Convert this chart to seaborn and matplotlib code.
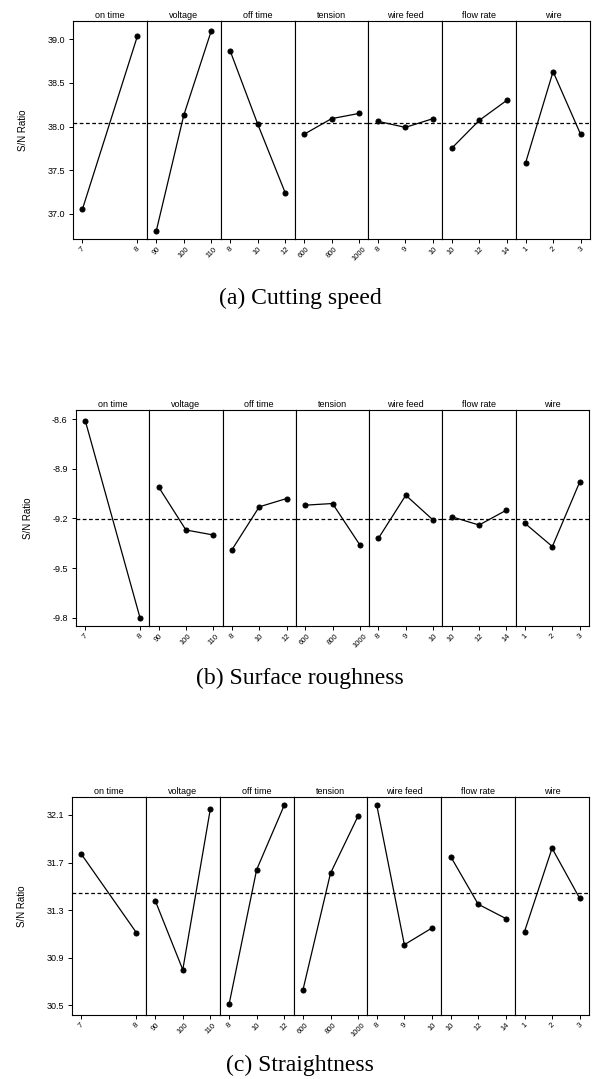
import numpy as np
import pandas as pd
import matplotlib
matplotlib.use('Agg')
import matplotlib.pyplot as plt
import seaborn as sns

# factors and their levels (same for all three responses)
factors = ['on time', 'voltage', 'off time', 'tension', 'wire feed', 'flow rate', 'wire']
levels = [[7, 8], [90, 100, 110], [8, 10, 12], [600, 800, 1000],
          [8, 9, 10], [10, 12, 14], [1, 2, 3]]

# mean S/N ratio per level
speed_sn = [[37.05, 39.04], [36.80, 38.13, 39.10], [38.87, 38.03, 37.24],
            [37.91, 38.09, 38.15], [38.06, 37.99, 38.09], [37.75, 38.07, 38.30],
            [37.58, 38.63, 37.91]]
rough_sn = [[-8.61, -9.80], [-9.01, -9.27, -9.30], [-9.39, -9.13, -9.08],
            [-9.12, -9.11, -9.36], [-9.32, -9.06, -9.21], [-9.19, -9.24, -9.15],
            [-9.23, -9.37, -8.98]]
straight_sn = [[31.77, 31.11], [31.38, 30.80, 32.15], [30.51, 31.64, 32.18],
               [30.63, 31.61, 32.09], [32.18, 31.01, 31.15], [31.75, 31.35, 31.23],
               [31.12, 31.82, 31.40]]

speed_ticks = [37.0, 37.5, 38.0, 38.5, 39.0]
rough_ticks = [-9.8, -9.5, -9.2, -8.9, -8.6]
straight_ticks = [30.5, 30.9, 31.3, 31.7, 32.1]

captions = ['(a) Cutting speed', '(b) Surface roughness', '(c) Straightness']

sns.set_style('ticks')
plt.rcParams['font.family'] = ['Liberation Sans', 'DejaVu Sans']
plt.rcParams['text.color'] = 'black'
plt.rcParams['axes.labelcolor'] = 'black'
plt.rcParams['xtick.color'] = 'black'
plt.rcParams['ytick.color'] = 'black'

W, H = 593, 1079
fig = plt.figure(figsize=(W / 100, H / 100), dpi=100)


def draw_panel(values, yticks, ylim, left_px, right_px, top_px, bottom_px, caption, cap_y):
    width = (right_px - left_px) / 7 / W
    left = left_px / W
    bottom = 1 - bottom_px / H
    height = (bottom_px - top_px) / H
    grand_mean = np.mean(values[0])
    for i, (name, lev, vals) in enumerate(zip(factors, levels, values)):
        ax = fig.add_axes([left + i * width, bottom, width, height])
        df = pd.DataFrame({'level': lev, 'sn': vals})
        sns.lineplot(data=df, x='level', y='sn', ax=ax, color='black', lw=0.9,
                     marker='o', markersize=3.6, markeredgecolor='black')
        ax.axhline(grand_mean, color='black', lw=0.9, ls=(0, (3, 2)))
        span = lev[-1] - lev[0]
        ax.set_xlim(lev[0] - 0.17 * span, lev[-1] + 0.17 * span)
        ax.set_ylim(ylim)
        ax.set_xticks(lev)
        ax.set_xticklabels([str(v) for v in lev], rotation=45, fontsize=5.5)
        ax.tick_params(axis='x', length=3, width=0.7, pad=2)
        ax.set_xlabel('')
        ax.set_title(name, fontsize=6.5, pad=2)
        for s in ax.spines.values():
            s.set_linewidth(0.8)
            s.set_color('black')
        if i == 0:
            ax.set_yticks(yticks)
            ax.set_yticklabels([f'{t:.1f}' for t in yticks], fontsize=6.5)
            ax.tick_params(axis='y', length=3, width=0.7, pad=3)
            ax.set_ylabel('S/N Ratio', fontsize=7, labelpad=14)
        else:
            ax.set_yticks([])
            ax.set_ylabel('')
    fig.text(300 / W, 1 - cap_y / H, caption, ha='center', va='center',
             fontsize=17, family='Liberation Serif', color='black')


draw_panel(speed_sn, speed_ticks, (36.71, 39.21), 73, 590, 21, 239, captions[0], 298)
draw_panel(rough_sn, rough_ticks, (-9.85, -8.545), 76, 589, 410, 626, captions[1], 678)
draw_panel(straight_sn, straight_ticks, (30.42, 32.25), 72, 589, 797, 1015, captions[2], 1065)

fig.savefig('out.png', dpi=100)
